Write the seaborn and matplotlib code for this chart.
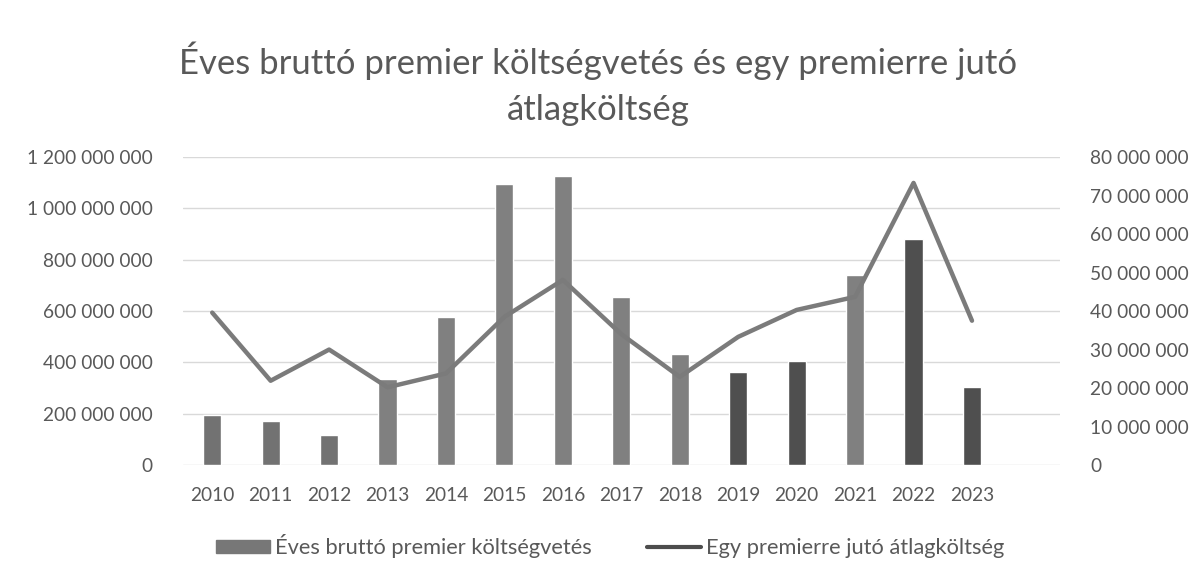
import seaborn as sns
import matplotlib.pyplot as plt
import matplotlib.ticker as mticker
from matplotlib.lines import Line2D
from matplotlib.patches import Patch
import numpy as np

years = ['2010', '2011', '2012', '2013', '2014', '2015', '2016',
         '2017', '2018', '2019', '2020', '2021', '2022', '2023']
budget = [195e6, 172e6, 117e6, 336e6, 575e6, 1097e6, 1126e6,
          656e6, 431e6, 362e6, 405e6, 740e6, 880e6, 303e6]
avg_cost = [39.6e6, 21.9e6, 30.0e6, 20.2e6, 23.8e6, 38.5e6, 48.1e6,
            34.0e6, 22.9e6, 33.3e6, 40.3e6, 43.7e6, 73.3e6, 37.5e6]

bar_label = 'Éves bruttó premier költségvetés'
line_label = 'Egy premierre jutó átlagköltség'
title = 'Éves bruttó premier költségvetés és egy premierre jutó\nátlagköltség'

# scan turned the colours to grey, some bars came out darker
bar_colors = ['#727272', '#727272', '#727272', '#808080', '#808080', '#808080', '#808080',
              '#808080', '#808080', '#4f4f4f', '#4f4f4f', '#808080', '#4f4f4f', '#4f4f4f']
txt = '#595959'

sns.set_style('white')
plt.rcParams['font.family'] = ['Lato', 'DejaVu Sans']

fig = plt.figure(figsize=(11.96, 5.82), dpi=100)
ax = fig.add_axes([0.153, 0.201, 0.733, 0.529])

sns.barplot(x=years, y=budget, hue=years, palette=bar_colors, legend=False,
            width=0.31, saturation=1, ax=ax)
ax.set_xlim(-0.5, 14.5)
ax.set_ylim(0, 1.2e9)
ax.set_yticks(np.arange(0, 1.2e9 + 1, 2e8))
fmt = mticker.FuncFormatter(lambda v, p: f'{int(v):,}'.replace(',', ' '))
ax.yaxis.set_major_formatter(fmt)
ax.grid(axis='y', color='#d9d9d9', lw=1)
ax.set_axisbelow(True)
for s in ax.spines.values():
    s.set_visible(False)
ax.tick_params(axis='both', length=0, labelsize=13.8, labelcolor=txt)
ax.tick_params(axis='y', pad=22)
ax.tick_params(axis='x', pad=16)

ax2 = ax.twinx()
sns.lineplot(x=np.arange(len(years)), y=avg_cost, color='#7b7b7b', lw=3.2, ax=ax2)
ax2.set_ylim(0, 80e6)
ax2.set_yticks(np.arange(0, 80e6 + 1, 10e6))
ax2.yaxis.set_major_formatter(fmt)
for s in ax2.spines.values():
    s.set_visible(False)
ax2.tick_params(axis='y', length=0, labelsize=13.8, labelcolor=txt, pad=22)
ax2.set_xlim(-0.5, 14.5)

fig.text(0.5, 0.856, title, ha='center', va='center', fontsize=25,
         color=txt, linespacing=1.55)

handles = [Patch(color='#777777', label=bar_label),
           Line2D([], [], color='#4d4d4d', lw=3, label=line_label)]
fig.legend(handles=handles, loc='center', bbox_to_anchor=(0.51, 0.061), ncol=2,
           frameon=False, fontsize=15.75, labelcolor=txt, handlelength=2.45,
           handleheight=0.55, handletextpad=0.23, columnspacing=2.55)

fig.savefig('out.png', dpi=100)
